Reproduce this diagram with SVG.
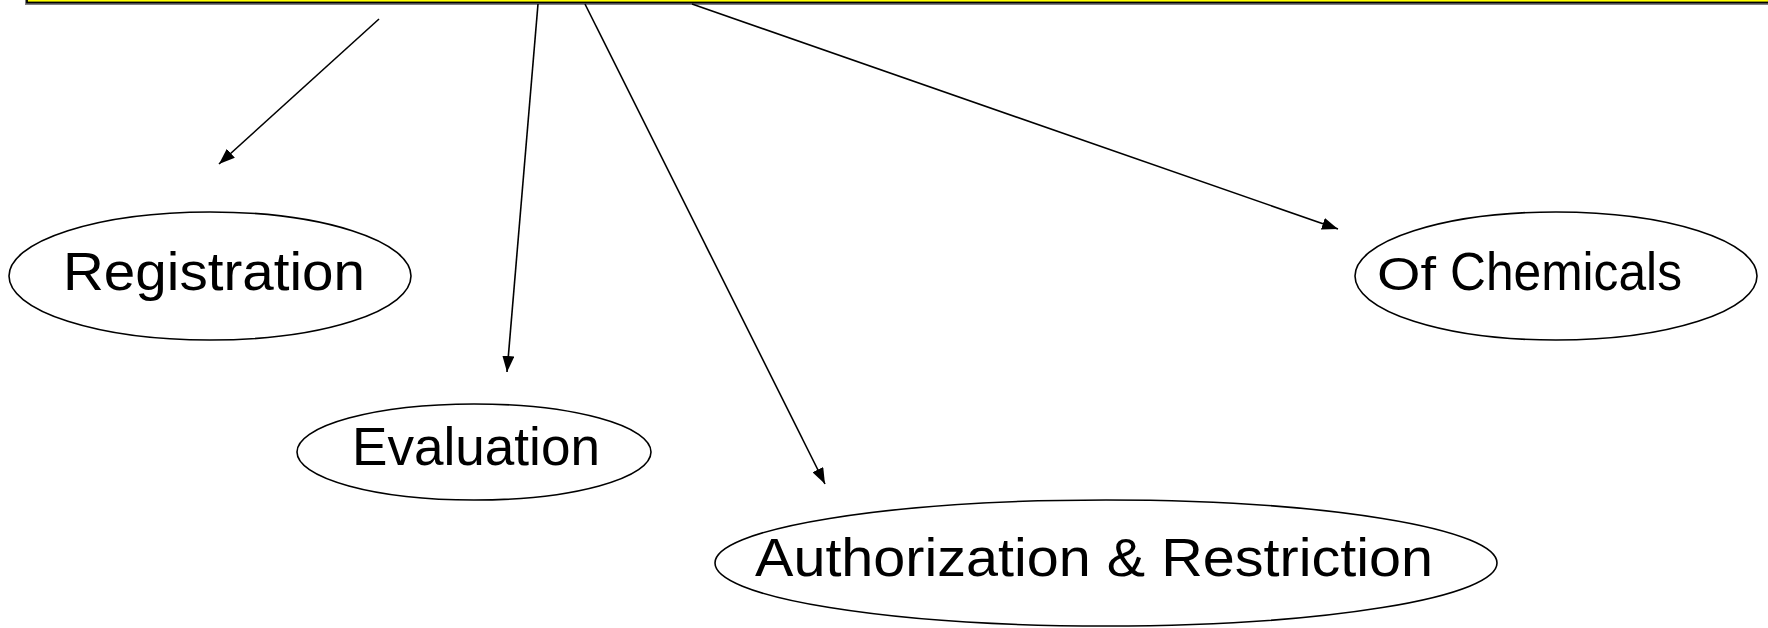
<svg xmlns="http://www.w3.org/2000/svg" width="1768" height="628" viewBox="0 0 1768 628">
<style>
.node ellipse{fill:#fff;stroke:#000;stroke-width:1.6}
.lbl{font-family:"Liberation Sans","DejaVu Sans",sans-serif;font-size:53px;fill:#000}
.conn line{stroke:#000;stroke-width:1.6;marker-end:url(#arr)}
</style>
<defs>
<marker id="arr" viewBox="0 0 16 12" refX="16" refY="6" markerWidth="16" markerHeight="12" markerUnits="userSpaceOnUse" orient="auto">
<path d="M0,0 L16,6 L0,12 z" fill="#000"/>
</marker>
</defs>
<rect width="1768" height="628" fill="#fff"/>
<g id="title">
<rect x="25" y="-50" width="1800" height="55" fill="#808080"/>
<rect x="27" y="-50" width="1800" height="52.5" fill="#ffff00" stroke="#000" stroke-width="1.8"/>
</g>
<g id="connectors" class="conn">
<line x1="379" y1="19" x2="219" y2="164"/>
<line x1="538" y1="4" x2="507" y2="372"/>
<line x1="585" y1="4" x2="825" y2="484"/>
<line x1="692" y1="4" x2="1338" y2="229"/>
</g>
<g id="registration" class="node">
<ellipse cx="210" cy="276" rx="201" ry="64"/>
<text class="lbl" x="63" y="290" textLength="302" lengthAdjust="spacingAndGlyphs">Registration</text>
</g>
<g id="evaluation" class="node">
<ellipse cx="474" cy="452" rx="177" ry="48"/>
<text class="lbl" x="352" y="465" textLength="248" lengthAdjust="spacingAndGlyphs">Evaluation</text>
</g>
<g id="authorization" class="node">
<ellipse cx="1106" cy="563" rx="391" ry="63"/>
<text class="lbl" x="755" y="576" textLength="678" lengthAdjust="spacingAndGlyphs">Authorization &amp; Restriction</text>
</g>
<g id="chemicals" class="node">
<ellipse cx="1556" cy="276" rx="201" ry="64"/>
<text class="lbl" x="1377" y="290"><tspan font-size="46" textLength="59" lengthAdjust="spacingAndGlyphs">Of</tspan><tspan x="1450" textLength="232" lengthAdjust="spacingAndGlyphs">Chemicals</tspan></text>
</g>
</svg>
